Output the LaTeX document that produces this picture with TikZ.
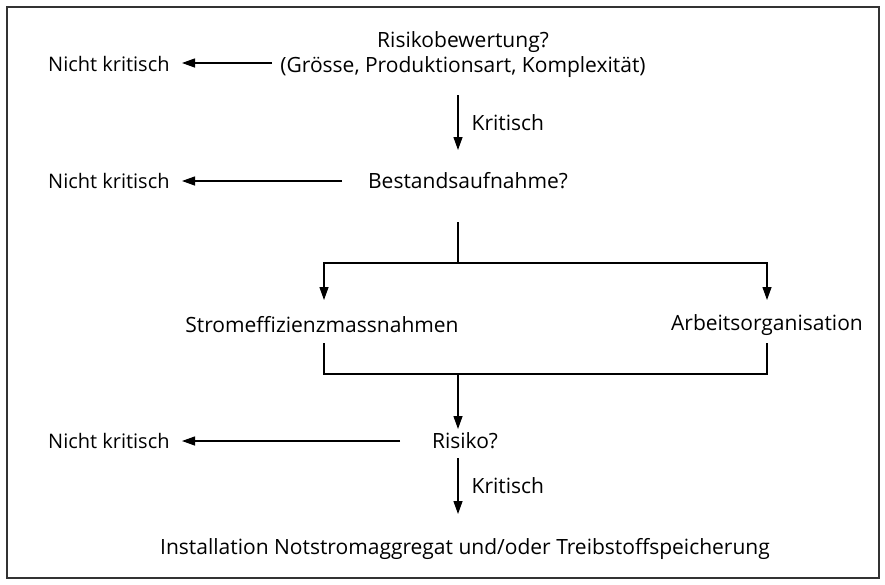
\documentclass[tikz,border=0pt]{standalone}
\usepackage{fontspec}
\setmainfont{Open Sans}
\usetikzlibrary{arrows.meta}
\begin{document}
\begin{tikzpicture}[x=1pt,y=-1pt,
  lbl/.style={inner sep=0pt,font=\fontsize{21}{25}\selectfont},
  side/.style={lbl,anchor=west,font=\fontsize{20}{24}\selectfont},
  ln/.style={line width=1.3pt},
  arr/.style={ln,-{Triangle[length=13pt,width=9pt]}}]
\useasboundingbox (0,0) rectangle (885,584);
\draw[line width=1.2pt,black!80] (7,7) rectangle (879,578);
% nodes
\node[lbl,align=center] (rb) at (463,55) {Risikobewertung?\\(Grösse, Produktionsart, Komplexität)};
\node[side] (nk1) at (48,64) {Nicht kritisch};
\node[lbl] (ba) at (468,181) {Bestandsaufnahme?};
\node[side] (nk2) at (48,181) {Nicht kritisch};
\node[lbl] (se) at (322,325) {Stromeffizienzmassnahmen};
\node[lbl] (ao) at (767,325) {Arbeitsorganisation};
\node[lbl] (ri) at (465,441) {Risiko?};
\node[side] (nk3) at (48,441) {Nicht kritisch};
\node[lbl] (in) at (465,549) {Installation Notstromaggregat und/oder Treibstoffspeicherung};
% coordinates
\coordinate (a1s) at (272,63); \coordinate (a1e) at (182,63);
\coordinate (k1s) at (458,95); \coordinate (k1e) at (458,150);
\coordinate (a2s) at (342,181); \coordinate (a2e) at (182,181);
\coordinate (b0) at (458,222); \coordinate (b1) at (458,263);
\coordinate (bl) at (324,263); \coordinate (br) at (767,263);
\coordinate (ble) at (324,300); \coordinate (bre) at (767,300);
\coordinate (jl) at (324,343); \coordinate (jr) at (767,343);
\coordinate (jl2) at (324,374); \coordinate (jr2) at (767,374);
\coordinate (jm) at (458,374); \coordinate (jme) at (458,429);
\coordinate (a3s) at (400,441); \coordinate (a3e) at (182,441);
\coordinate (k2s) at (458,458); \coordinate (k2e) at (458,514);
% connectors
\draw[arr] (a1s) -- (a1e);
\draw[arr] (k1s) -- (k1e) node[lbl,midway,right=13pt] {Kritisch};
\draw[arr] (a2s) -- (a2e);
\draw[ln] (b0) -- (b1);
\draw[arr] (b1) -- (bl) -- (ble);
\draw[arr] (b1) -- (br) -- (bre);
\draw[ln] (jl) -- (jl2) -- (jr2) -- (jr);
\draw[arr] (jm) -- (jme);
\draw[arr] (a3s) -- (a3e);
\draw[arr] (k2s) -- (k2e) node[lbl,midway,right=13pt] {Kritisch};
\end{tikzpicture}
\end{document}
